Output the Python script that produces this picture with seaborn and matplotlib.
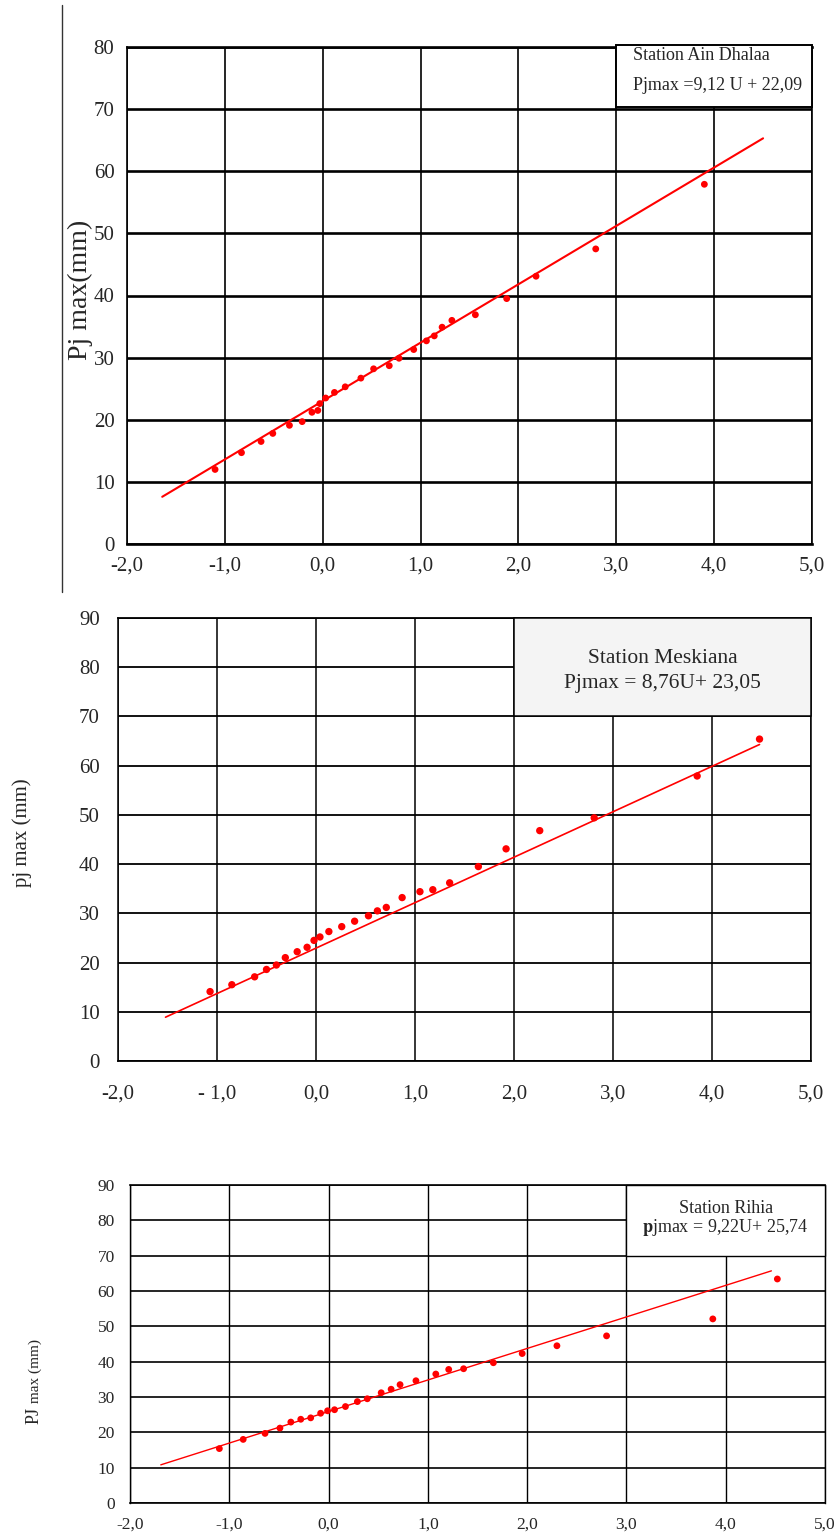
import matplotlib
matplotlib.use('Agg')
import matplotlib.pyplot as plt
import seaborn as sns
import pandas as pd
from matplotlib.patches import Rectangle
from matplotlib.lines import Line2D

# Station Ain Dhalaa : reduced Gumbel variable U and daily max rain (mm)
ain_u = [-1.10, -0.83, -0.63, -0.51, -0.34, -0.21, -0.11, -0.05, -0.03, 0.03,
         0.12, 0.23, 0.39, 0.52, 0.68, 0.78, 0.93, 1.06, 1.14, 1.22,
         1.32, 1.56, 1.88, 2.18, 2.79, 3.90]
ain_p = [12.0, 14.7, 16.5, 17.8, 19.1, 19.7, 21.2, 21.5, 22.6, 23.5,
         24.4, 25.3, 26.7, 28.2, 28.7, 29.9, 31.3, 32.7, 33.5, 34.9,
         36.0, 36.9, 39.5, 43.1, 47.5, 57.9]
ain_fit_u = [-1.64, 4.50]
ain_fit_p = [7.6, 65.3]

# Station Meskiana
mes_u = [-1.07, -0.85, -0.62, -0.50, -0.40, -0.31, -0.19, -0.09, -0.02, 0.04,
         0.13, 0.26, 0.39, 0.53, 0.62, 0.71, 0.87, 1.05, 1.18, 1.35,
         1.64, 1.92, 2.26, 2.81, 3.85, 4.48]
mes_p = [14.1, 15.5, 17.1, 18.6, 19.5, 21.0, 22.2, 23.1, 24.5, 25.2,
         26.3, 27.3, 28.4, 29.5, 30.5, 31.2, 33.2, 34.4, 34.8, 36.2,
         39.5, 43.1, 46.8, 49.4, 57.9, 65.4]
mes_fit_u = [-1.52, 4.48]
mes_fit_p = [8.9, 64.3]

# Station Rihia
rih_u = [-1.10, -0.86, -0.64, -0.49, -0.38, -0.28, -0.18, -0.08, -0.01, 0.06,
         0.17, 0.29, 0.39, 0.53, 0.63, 0.72, 0.88, 1.08, 1.21, 1.36,
         1.66, 1.95, 2.30, 2.80, 3.87, 4.52]
rih_p = [15.4, 18.0, 19.7, 21.2, 22.9, 23.7, 24.1, 25.4, 26.1, 26.4,
         27.3, 28.7, 29.5, 31.2, 32.2, 33.5, 34.6, 36.5, 37.8, 38.0,
         39.7, 42.3, 44.5, 47.3, 52.1, 63.4]
rih_fit_u = [-1.69, 4.46]
rih_fit_p = [10.8, 65.7]

x_ticks = [-2, -1, 0, 1, 2, 3, 4, 5]
x_labels = ['-2,0', '-1,0', '0,0', '1,0', '2,0', '3,0', '4,0', '5,0']
x_labels_mes = ['-2,0', '- 1,0', '0,0', '1,0', '2,0', '3,0', '4,0', '5,0']

sns.set_style('white')
plt.rcParams['font.family'] = ['Liberation Serif', 'DejaVu Serif']
plt.rcParams['mathtext.fontset'] = 'stix'

W, H = 839, 1535
fig = plt.figure(figsize=(W / 100, H / 100), dpi=100)


def px_axes(left, right, top, bottom):
    # axes from pixel box of the original scan
    return fig.add_axes([left / W, 1 - bottom / H, (right - left) / W, (bottom - top) / H])


def draw_panel(ax, u, p, fit_u, fit_p, ymax, labels, tick_size, pad_x, pad_y,
               hgrid_lw, vgrid_lw, dot_size, fit_lw):
    df = pd.DataFrame({'U': u, 'P': p})
    fit = pd.DataFrame({'U': fit_u, 'P': fit_p})
    sns.lineplot(data=fit, x='U', y='P', color='red', lw=fit_lw, ax=ax, zorder=4)
    sns.scatterplot(data=df, x='U', y='P', color='red', s=dot_size,
                    edgecolor='none', ax=ax, zorder=5)
    ax.set_xlim(-2, 5)
    ax.set_ylim(0, ymax)
    ax.set_xticks(x_ticks)
    ax.set_xticklabels(labels)
    ax.set_yticks(range(0, ymax + 1, 10))
    ax.tick_params(axis='x', length=0, pad=pad_x, labelsize=tick_size)
    ax.tick_params(axis='y', length=0, pad=pad_y, labelsize=tick_size)
    ax.grid(axis='y', color='black', lw=hgrid_lw)
    ax.grid(axis='x', color='black', lw=vgrid_lw)
    for side in ['left', 'right']:
        ax.spines[side].set_color('black')
        ax.spines[side].set_linewidth(vgrid_lw)
    for side in ['top', 'bottom']:
        ax.spines[side].set_color('black')
        ax.spines[side].set_linewidth(hgrid_lw)
    ax.set_xlabel('')
    ax.set_ylabel('')


# ---- Panel 1 : Ain Dhalaa
ax1 = px_axes(127, 812, 47, 544)
draw_panel(ax1, ain_u, ain_p, ain_fit_u, ain_fit_p, 80, x_labels, 15, 9, 9,
           1.9, 1.2, 24, 1.5)
ax1.add_patch(Rectangle((3, 70.4), 2, 9.9, fc='white', ec='black', lw=1.4,
                        zorder=3, clip_on=False))
ax1.text(3.17, 78.6, 'Station Ain Dhalaa', fontsize=13, va='center', ha='left', zorder=6)
ax1.text(3.17, 73.8, 'Pjmax =9,12 U + 22,09', fontsize=13, va='center', ha='left', zorder=6)
fig.text(80 / W, 1 - 290 / H, 'Pj max(mm)', rotation=90, fontsize=20,
         ha='center', va='center')
fig.add_artist(Line2D([62 / W, 62 / W], [1 - 5 / H, 1 - 592 / H], color='#333333', lw=1))

# ---- Panel 2 : Meskiana
ax2 = px_axes(118, 811, 618, 1061)
draw_panel(ax2, mes_u, mes_p, mes_fit_u, mes_fit_p, 90, x_labels_mes, 15, 17, 13,
           1.3, 1.1, 28, 1.2)
ax2.add_patch(Rectangle((2, 70), 3, 20, fc='#f4f4f4', ec='black', lw=1.1,
                        zorder=3, clip_on=False))
ax2.text(3.5, 81.8, 'Station Meskiana', fontsize=15.5, va='center', ha='center', zorder=6)
ax2.text(3.5, 76.6, 'Pjmax = 8,76U+ 23,05', fontsize=15.5, va='center', ha='center', zorder=6)
fig.text(22 / W, 1 - 833 / H, 'pj max (mm)', rotation=90, fontsize=15,
         ha='center', va='center')

# ---- Panel 3 : Rihia
ax3 = px_axes(130, 825, 1185, 1503)
draw_panel(ax3, rih_u, rih_p, rih_fit_u, rih_fit_p, 90, x_labels, 12.5, 10, 11,
           1.2, 1.0, 24, 1.0)
ax3.add_patch(Rectangle((3, 70), 2, 20, fc='white', ec='black', lw=1.0,
                        zorder=3, clip_on=False))
ax3.text(4.0, 83.3, 'Station Rihia', fontsize=13, va='center', ha='center', zorder=6)
ax3.text(4.0, 78.1, r'$\mathbf{p}$jmax = 9,22U+ 25,74', fontsize=13, va='center',
         ha='center', zorder=6)
# "PJ" is set larger than the rest of the axis title, both on one baseline
fig.text(39 / W, 1 - 1424 / H, 'PJ', rotation=90, fontsize=13,
         ha='left', va='baseline', rotation_mode='anchor')
fig.text(39 / W, 1 - 1407 / H, ' max (mm)', rotation=90, fontsize=11,
         ha='left', va='baseline', rotation_mode='anchor')

fig.savefig('out.png', dpi=100, facecolor='white')
